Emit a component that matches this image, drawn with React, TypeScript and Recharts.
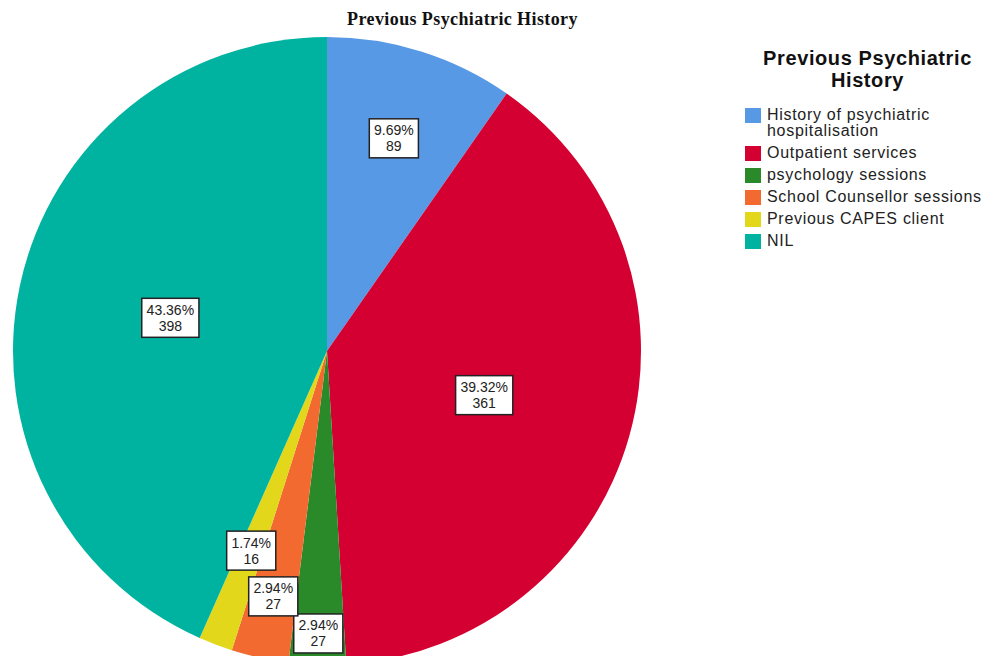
import React from "react";
import { PieChart, Pie, Cell, Legend } from "recharts";

const CATEGORIES = [
  "History of psychiatric hospitalisation",
  "Outpatient services",
  "psychology sessions",
  "School Counsellor sessions",
  "Previous CAPES client",
  "NIL",
];
const COUNTS = [89, 361, 27, 27, 16, 398];
const COLORS = ["#5899E6", "#D50032", "#2A8A2A", "#F26A30", "#E2D71A", "#00B3A0"];
// how far out each label sits, as a share of the radius
const LABEL_RADIUS = [0.71, 0.52, 0.9, 0.8, 0.68, 0.51];

const data = CATEGORIES.map((name, i) => ({ name, value: COUNTS[i] }));
const total = COUNTS.reduce((a, b) => a + b, 0);
const RAD = Math.PI / 180;
const FONT = "Arial, 'Liberation Sans', sans-serif";

// rough Arial widths, in em
const textWidth = (s: string, size: number) =>
  s.split("").reduce((w, ch) => w + (ch === "." ? 0.278 : ch === "%" ? 0.889 : 0.556), 0) * size;

const renderLabel = (props: any) => {
  const { cx, cy, midAngle, outerRadius, value, index } = props;
  const r = outerRadius * LABEL_RADIUS[index];
  const x = cx + r * Math.cos(-midAngle * RAD);
  const y = cy + r * Math.sin(-midAngle * RAD);
  const pct = ((value / total) * 100).toFixed(2) + "%";
  const w = textWidth(pct, 14.5) + 8;
  const h = 39;
  return (
    <g>
      <rect x={x - w / 2} y={y - h / 2} width={w} height={h} fill="#fff" stroke="#222" strokeWidth={1.5} />
      <text x={x} y={y - 3} textAnchor="middle" fontSize={14} fontFamily={FONT} fill="#222">
        {pct}
      </text>
      <text x={x} y={y + 13} textAnchor="middle" fontSize={14} fontFamily={FONT} fill="#222">
        {value}
      </text>
    </g>
  );
};

const LegendBox = () => (
  <div style={{ fontFamily: FONT, width: 245 }}>
    <div
      style={{
        fontWeight: "bold",
        fontSize: 20,
        letterSpacing: 0.6,
        textAlign: "center",
        lineHeight: "22px",
        color: "#111",
        marginBottom: 16,
      }}
    >
      Previous Psychiatric
      <br />
      History
    </div>
    {CATEGORIES.map((c, i) => (
      <div key={c} style={{ display: "flex", alignItems: "flex-start", marginBottom: 6 }}>
        <div style={{ width: 16, height: 15, background: COLORS[i], marginTop: 1, marginRight: 6, flex: "none" }} />
        <div style={{ fontSize: 16, letterSpacing: 0.7, lineHeight: "16px", color: "#222", width: 225, whiteSpace: "nowrap" }}>
          {i === 0 ? (
            <>
              History of psychiatric
              <br />
              hospitalisation
            </>
          ) : (
            c
          )}
        </div>
      </div>
    ))}
  </div>
);

export default function App() {
  return (
    <div style={{ position: "absolute", left: 0, top: 0, width: 987, height: 656, background: "#fff" }}>
      <div
        style={{
          position: "absolute",
          left: 0,
          top: 9,
          width: 925,
          textAlign: "center",
          fontFamily: "'Liberation Serif', 'Times New Roman', serif",
          fontWeight: "bold",
          fontSize: 18,
          letterSpacing: 0.4,
          color: "#111",
        }}
      >
        Previous Psychiatric History
      </div>
      <PieChart width={987} height={656} margin={{ top: 0, right: 0, bottom: 0, left: 0 }}>
        <Pie
          data={data}
          dataKey="value"
          nameKey="name"
          cx={327}
          cy={351}
          outerRadius={314}
          startAngle={90}
          endAngle={-270}
          stroke="none"
          label={renderLabel}
          labelLine={false}
          isAnimationActive={false}
        >
          {data.map((_, i) => (
            <Cell key={i} fill={COLORS[i]} />
          ))}
        </Pie>
        <Legend
          layout="vertical"
          content={() => <LegendBox />}
          wrapperStyle={{ position: "absolute", left: 745, top: 47, width: 245 }}
        />
      </PieChart>
    </div>
  );
}
